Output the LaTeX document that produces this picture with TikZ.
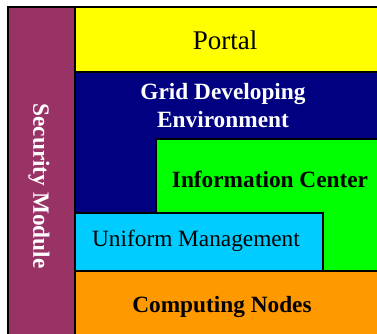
\documentclass[tikz,border=0pt]{standalone}
\usepackage{fontspec}
\setmainfont{Liberation Serif}
\usetikzlibrary{positioning}
\definecolor{secpurple}{RGB}{153,51,102}
\definecolor{portalyellow}{RGB}{255,255,0}
\definecolor{gridnavy}{RGB}{0,0,128}
\definecolor{infogreen}{RGB}{0,255,0}
\definecolor{mgmtcyan}{RGB}{0,204,255}
\definecolor{nodeorange}{RGB}{255,153,0}

\begin{document}
\begin{tikzpicture}[x=1pt,y=-1pt,line width=1.5pt,
	lbl/.style={font=\fontsize{23.3}{28}\selectfont, align=center, inner sep=0pt},
	blbl/.style={lbl, font=\fontsize{23.3}{28}\selectfont\bfseries}]
	\useasboundingbox (0,0) rectangle (377,334);
	% layers
	\filldraw[fill=secpurple] (8,7) rectangle (75,340);
	\filldraw[fill=portalyellow] (75,7) rectangle (380,72);
	\filldraw[fill=gridnavy] (75,72) rectangle (380,271);
	\filldraw[fill=infogreen] (156,139) rectangle (380,271);
	\filldraw[fill=mgmtcyan] (75,213) rectangle (323,271);
	\filldraw[fill=nodeorange] (75,271) rectangle (380,340);
	% labels
	\node[blbl, text=white, rotate=-90] (sec) at (39,186) {Security Module};
	\node[lbl, font=\fontsize{27}{32}\selectfont, anchor=base] (portal) at (225,50) {Portal};
	\node[blbl, text=white] (grid) at (223,106) {Grid Developing\\Environment};
	\node[blbl, anchor=base] (info) at (270,187) {Information Center};
	\node[lbl, anchor=base] (mgmt) at (196,246) {Uniform Management};
	\node[blbl, anchor=base] (comp) at (222,312) {Computing Nodes};
\end{tikzpicture}
\end{document}
